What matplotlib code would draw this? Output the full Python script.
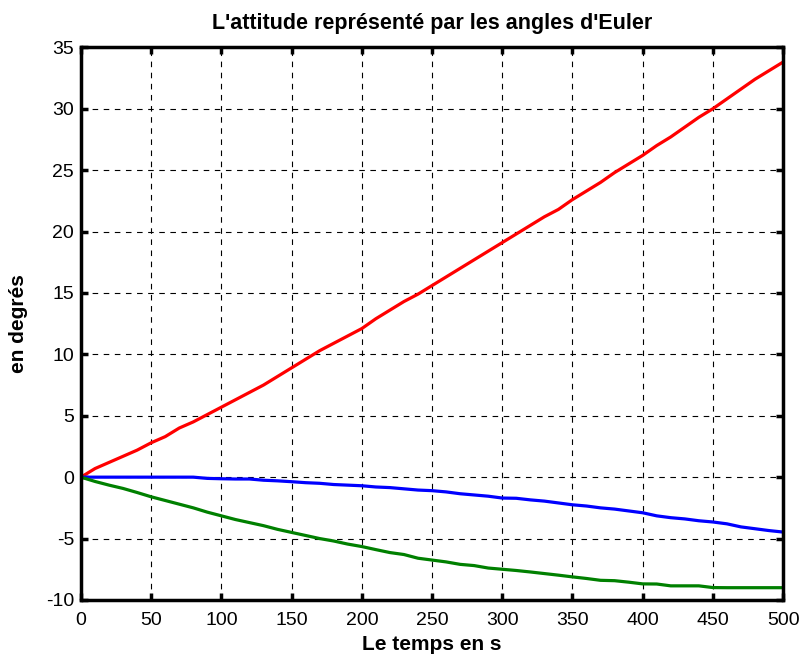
import numpy as np
import matplotlib.pyplot as plt

plt.rcParams['font.family'] = ['Liberation Sans', 'DejaVu Sans']
plt.rcParams['axes.unicode_minus'] = False

# time axis (s)
t = [0, 10, 20, 30, 40, 50, 60, 70, 80, 90, 100, 110, 120, 130, 140, 150,
     160, 170, 180, 190, 200, 210, 220, 230, 240, 250, 260, 270, 280, 290,
     300, 310, 320, 330, 340, 350, 360, 370, 380, 390, 400, 410, 420, 430,
     440, 450, 460, 470, 480, 490, 500]

# Euler angles (degrees)
red = [0, 0.7, 1.2, 1.7, 2.2, 2.8, 3.3, 4.0, 4.5, 5.1, 5.7, 6.3, 6.9, 7.5,
       8.2, 8.9, 9.6, 10.3, 10.9, 11.5, 12.1, 12.9, 13.6, 14.3, 14.9, 15.6,
       16.3, 17.0, 17.7, 18.4, 19.1, 19.8, 20.5, 21.2, 21.8, 22.6, 23.3,
       24.0, 24.8, 25.5, 26.2, 27.0, 27.7, 28.5, 29.3, 30.0, 30.8, 31.6,
       32.4, 33.1, 33.8]
blue = [0, 0, 0, 0, 0, 0, 0, 0, 0, -0.1, -0.13, -0.15, -0.15, -0.25, -0.3,
        -0.37, -0.45, -0.5, -0.6, -0.65, -0.7, -0.8, -0.85, -0.95, -1.05,
        -1.1, -1.2, -1.35, -1.45, -1.55, -1.7, -1.72, -1.85, -1.95, -2.1,
        -2.25, -2.35, -2.5, -2.6, -2.75, -2.9, -3.15, -3.3, -3.4, -3.55,
        -3.65, -3.8, -4.05, -4.2, -4.35, -4.47]
green = [0, -0.35, -0.65, -0.92, -1.25, -1.6, -1.9, -2.2, -2.5, -2.85,
         -3.15, -3.45, -3.7, -3.95, -4.25, -4.5, -4.75, -5.0, -5.2, -5.45,
         -5.65, -5.9, -6.14, -6.3, -6.6, -6.75, -6.9, -7.1, -7.2, -7.4,
         -7.5, -7.6, -7.72, -7.85, -7.98, -8.12, -8.25, -8.4, -8.43, -8.55,
         -8.69, -8.7, -8.85, -8.85, -8.85, -8.99, -9.0, -9.0, -9.0, -9.0,
         -9.0]

xticks = np.arange(0, 501, 50)
yticks = np.arange(-10, 36, 5)

fig = plt.figure(figsize=(8.04, 6.57), dpi=100)
ax = fig.add_axes([0.1007, 0.0868, 0.8733, 0.8412])

ax.plot(t, red, color='#ff0000', lw=2.3)
ax.plot(t, blue, color='#0000ff', lw=2.3)
ax.plot(t, green, color='#008000', lw=2.3)

ax.set_xlim(0, 500)
ax.set_ylim(-10, 35)
ax.set_xticks(xticks)
ax.set_yticks(yticks)

ax.grid(True, color='black', linestyle=(0, (5, 5)), linewidth=0.8)
for s in ax.spines.values():
    s.set_linewidth(2.5)
ax.tick_params(direction='in', length=5, width=2.5, top=True, right=True,
               labelsize=14, pad=5)
ax.tick_params(axis='x', pad=9)

ax.set_title("L'attitude représenté par les angles d'Euler",
             fontsize=15.5, fontweight='bold', pad=13)
ax.set_xlabel('Le temps en s', fontsize=15, fontweight='bold', labelpad=4)
ax.set_ylabel('en degrés', fontsize=15, fontweight='bold', labelpad=13)

fig.savefig('out.png', dpi=100)
